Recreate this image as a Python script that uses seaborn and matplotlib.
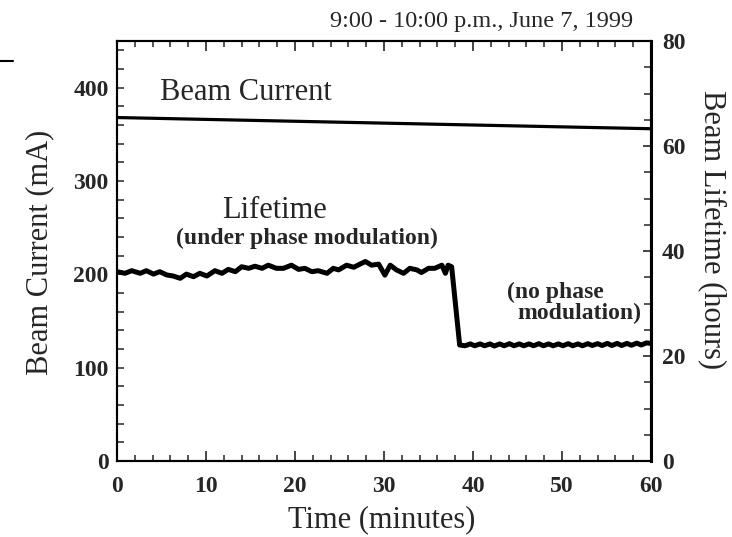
import matplotlib
matplotlib.use("Agg")
import matplotlib.pyplot as plt
from matplotlib.lines import Line2D
from matplotlib.ticker import MultipleLocator
import seaborn as sns

# ---- data ----
current_time = [0, 20, 40, 60]
current_mA = [368, 364, 360, 356]

life_time_pre = [0.0, 0.9, 1.65, 2.6, 3.3, 4.1, 4.8, 5.6, 6.3, 7.1, 7.8, 8.6,
                 9.3, 10.1, 11.0, 11.8, 12.5, 13.3, 14.0, 14.8, 15.5, 16.3,
                 17.0, 17.9, 18.7, 19.6, 20.4, 21.1, 21.9, 22.6, 23.6, 24.3,
                 24.9, 25.8, 26.6, 27.3, 27.9, 28.6, 29.4, 30.1, 30.7, 31.4,
                 32.2, 32.9, 33.7, 34.2, 35.0, 35.7, 36.5, 36.9, 37.2, 37.6]
life_hours_pre = [36.06, 35.75, 36.25, 35.75, 36.25, 35.6, 36.06, 35.43, 35.24,
                  34.8, 35.6, 35.1, 35.75, 35.24, 36.25, 35.75, 36.5, 36.06,
                  37.0, 36.7, 37.1, 36.7, 37.3, 36.7, 36.7, 37.3, 36.5, 36.7,
                  36.06, 36.25, 35.75, 36.7, 36.4, 37.3, 36.9, 37.5, 38.0, 37.3,
                  37.5, 35.4, 37.3, 36.4, 35.75, 36.7, 36.4, 35.9, 36.7, 36.7,
                  37.3, 35.75, 37.3, 37.0]
life_time_post = [38.5, 39.1, 39.7, 40.2, 40.8, 41.3, 41.9, 42.4, 43.0, 43.5,
                  44.1, 44.6, 45.2, 45.7, 46.3, 46.8, 47.4, 47.9, 48.5, 49.0,
                  49.6, 50.1, 50.7, 51.2, 51.8, 52.3, 52.9, 53.4, 54.0, 54.5,
                  55.1, 55.6, 56.2, 56.7, 57.3, 57.8, 58.4, 58.9, 59.5, 60.0]
life_hours_post = [22.1, 21.95, 22.3, 21.95, 22.3, 21.95, 22.3, 21.9, 22.3, 21.95,
                   22.35, 21.95, 22.3, 21.95, 22.3, 21.95, 22.35, 21.95, 22.3, 21.95,
                   22.3, 21.95, 22.35, 21.95, 22.3, 21.95, 22.35, 22.0, 22.35, 22.0,
                   22.4, 22.0, 22.4, 22.0, 22.4, 22.05, 22.45, 22.1, 22.5, 22.4]

x_ticks = [0, 10, 20, 30, 40, 50, 60]
left_ticks = [0, 100, 200, 300, 400]
right_ticks = [0, 20, 40, 60, 80]

sns.set_style("ticks")
plt.rcParams["font.family"] = ["Liberation Serif", "DejaVu Serif"]

fig = plt.figure(figsize=(7.32, 5.37), dpi=100)
ax = fig.add_axes([117/732, 1 - 461/537, (651-117)/732, (461-41)/537])
ax2 = ax.twinx()

sns.lineplot(x=current_time, y=current_mA, ax=ax, color="black", linewidth=2.3,
             estimator=None, sort=False)
life_t = life_time_pre + life_time_post
life_h = life_hours_pre + life_hours_post
sns.lineplot(x=life_t, y=life_h, ax=ax2, color="black", linewidth=3.6,
             estimator=None, sort=False)

ax.set_xlim(0, 60)
ax.set_ylim(0, 450)
ax2.set_ylim(0, 80)

ax.set_xticks(x_ticks)
ax.set_yticks(left_ticks)
ax2.set_yticks(right_ticks)
ax.xaxis.set_minor_locator(MultipleLocator(2))
ax.yaxis.set_minor_locator(MultipleLocator(20))
ax2.yaxis.set_minor_locator(MultipleLocator(5))

for a in (ax, ax2):
    for s in a.spines.values():
        s.set_linewidth(1.5)
        s.set_color("black")
        s.set_visible(True)
ax2.spines["right"].set_linewidth(2.2)

ax.tick_params(axis="x", which="major", direction="in", length=7, width=1.2,
               top=True, bottom=True, pad=11, labelsize=17)
ax.tick_params(axis="x", which="minor", direction="in", length=4, width=1.1,
               top=True, bottom=True)
ax.tick_params(axis="y", which="major", direction="in", length=5, width=1.1,
               left=True, right=False, pad=6, labelsize=17)
ax.tick_params(axis="y", which="minor", direction="in", length=5, width=1.1,
               left=True, right=False)
ax2.tick_params(axis="y", which="major", direction="in", length=6, width=1.2,
                right=True, left=False, pad=8, labelsize=17)
ax2.tick_params(axis="y", which="minor", direction="in", length=5, width=1.1,
                right=True, left=False)
for lab in ax.get_xticklabels() + ax.get_yticklabels() + ax2.get_yticklabels():
    lab.set_fontweight("bold")

ax.set_xlabel("")
ax.set_ylabel("")
ax2.set_ylabel("")

fig.text(382/732, 1 - 520/537, "Time (minutes)", ha="center", va="center", fontsize=22)
fig.text(40/732, 1 - 252/537, "Beam Current (mA)", ha="center", va="center",
         rotation=90, fontsize=22)
fig.text(712/732, 1 - 230/537, "Beam Lifetime (hours)", ha="center", va="center",
         rotation=-90, fontsize=22)
fig.text(633/732, 1 - 27/537, "9:00 - 10:00 p.m., June 7, 1999", ha="right",
         va="baseline", fontsize=17.5)

ax.text(4.8, 395, "Beam Current", ha="left", va="center", fontsize=22)
ax.text(11.8, 268, "Lifetime", ha="left", va="center", fontsize=22)
ax.text(21.3, 239, "(under phase modulation)", ha="center", va="center",
        fontsize=17, fontweight="bold")
ax.text(49.2, 181, "(no phase", ha="center", va="center", fontsize=17,
        fontweight="bold")
ax.text(52.0, 158, "modulation)", ha="center", va="center", fontsize=17,
        fontweight="bold")

fig.add_artist(Line2D([0, 13/732], [1 - 61/537, 1 - 61/537], color="black",
                      linewidth=1.5))

fig.savefig("out.png", dpi=100)
